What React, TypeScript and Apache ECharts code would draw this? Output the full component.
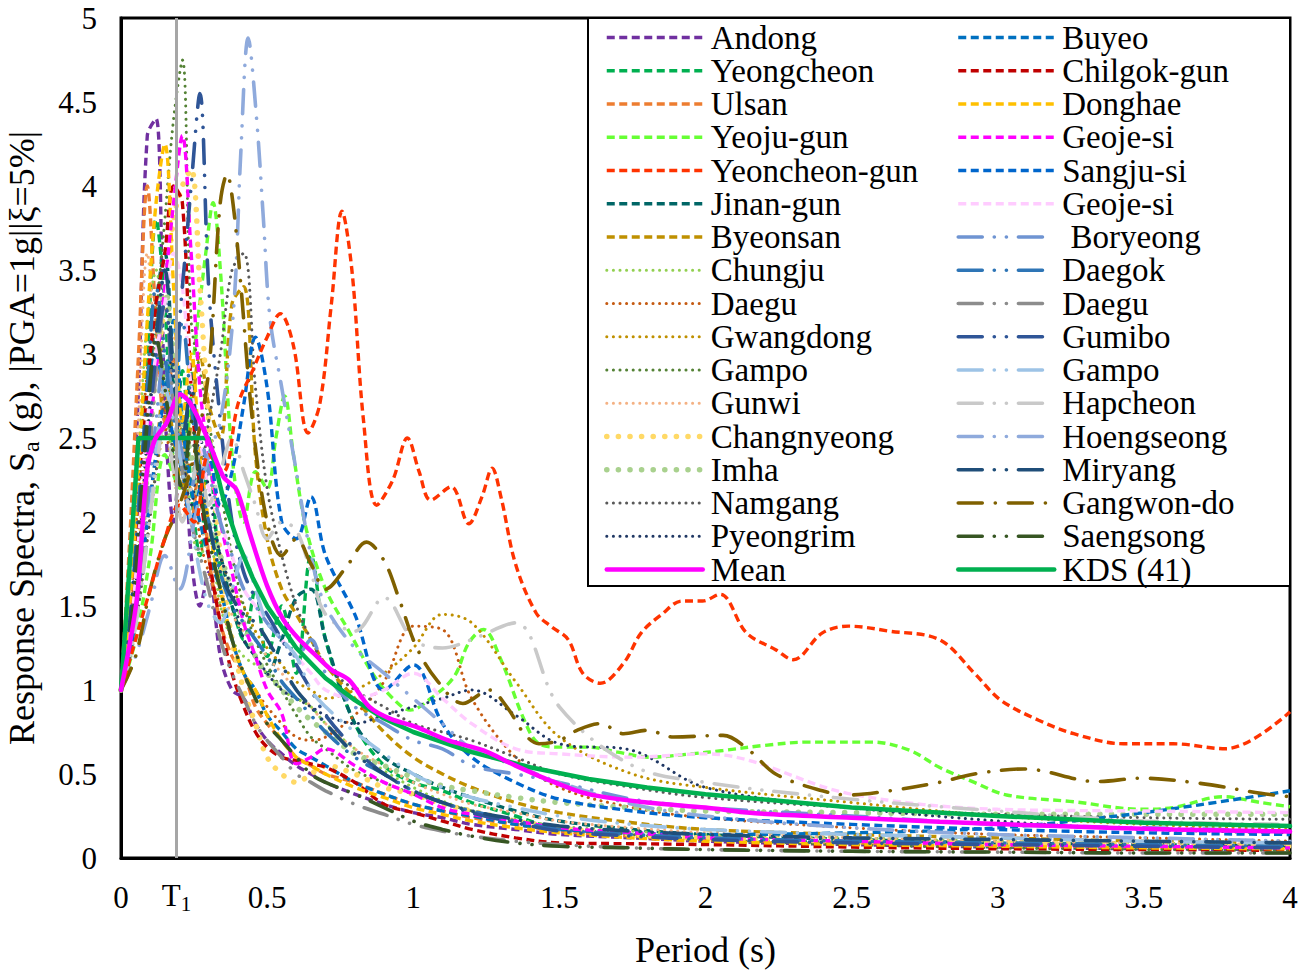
import { useEffect, useRef } from "react";
import * as echarts from "echarts";

// Shared period grid (s) for most records
const periods = [0, 0.03, 0.06, 0.09, 0.12, 0.15, 0.18, 0.21, 0.24, 0.27, 0.3, 0.34, 0.38, 0.42, 0.46, 0.5, 0.55, 0.6, 0.65, 0.7, 0.8, 0.9, 1.0, 1.1, 1.2, 1.35, 1.5, 1.75, 2.0, 2.5, 3.0, 3.5, 4.0];

const andong = [1, 1.7, 2.8, 4.3, 4.4, 2.7, 2.0, 2.6, 1.8, 1.5, 1.7, 1.2, 1.0, 0.95, 0.8, 0.7, 0.62, 0.55, 0.5, 0.45, 0.38, 0.32, 0.27, 0.24, 0.2, 0.17, 0.14, 0.12, 0.1, 0.08, 0.065, 0.055, 0.05];
const yeongcheon = [1, 1.4, 2.2, 3.0, 3.8, 3.3, 2.4, 2.9, 2.2, 1.8, 2.4, 1.7, 1.5, 1.3, 1.6, 1.2, 1.5, 1.1, 1.8, 1.3, 0.8, 0.55, 0.45, 0.4, 0.33, 0.25, 0.17, 0.13, 0.11, 0.09, 0.07, 0.06, 0.055];
const ulsan = [1, 1.9, 3.0, 4.0, 3.2, 2.6, 3.0, 2.3, 2.0, 2.4, 1.8, 1.4, 1.2, 1.1, 0.9, 0.8, 0.7, 0.6, 0.55, 0.5, 0.45, 0.38, 0.32, 0.28, 0.24, 0.2, 0.16, 0.13, 0.11, 0.09, 0.075, 0.065, 0.06];
const jinanGun = [1, 1.3, 1.9, 2.6, 3.3, 3.6, 2.8, 2.3, 2.9, 2.2, 2.0, 1.8, 1.5, 1.3, 1.2, 1.1, 1.3, 1.55, 1.6, 1.3, 0.8, 0.6, 0.5, 0.42, 0.36, 0.28, 0.22, 0.17, 0.14, 0.11, 0.09, 0.08, 0.07];
const byeonsan = [1, 1.2, 1.6, 2.0, 2.4, 2.8, 2.5, 2.2, 2.6, 3.0, 2.7, 2.5, 3.3, 3.4, 2.4, 1.9, 1.6, 1.45, 1.3, 1.15, 0.95, 0.75, 0.6, 0.5, 0.42, 0.33, 0.27, 0.21, 0.17, 0.14, 0.12, 0.1, 0.09];
const chungju = [1, 1.5, 2.4, 3.2, 3.5, 2.8, 2.4, 2.6, 2.0, 1.8, 1.9, 1.5, 1.3, 1.2, 1.15, 1.1, 1.0, 0.95, 0.9, 0.8, 0.65, 0.52, 0.42, 0.34, 0.28, 0.23, 0.19, 0.16, 0.14, 0.12, 0.1, 0.09, 0.08];
const daeguDot = [1, 1.4, 2.2, 2.9, 3.3, 2.6, 2.3, 2.0, 2.4, 1.9, 1.7, 1.5, 1.3, 1.1, 1.0, 0.9, 0.8, 0.72, 0.7, 0.72, 0.85, 1.05, 1.38, 1.36, 0.95, 0.6, 0.42, 0.3, 0.24, 0.18, 0.14, 0.12, 0.1];
const gwangdong = [1, 1.2, 1.5, 1.9, 2.3, 2.6, 3.0, 2.5, 2.2, 2.4, 2.0, 1.8, 1.6, 1.5, 1.35, 1.25, 1.15, 1.05, 1.0, 0.95, 1.0, 1.1, 1.25, 1.45, 1.4, 1.05, 0.72, 0.5, 0.42, 0.33, 0.25, 0.2, 0.17];
const gampoDot = [1, 1.3, 1.8, 2.5, 3.2, 3.8, 4.4, 4.75, 3.2, 2.9, 2.6, 2.2, 1.8, 1.5, 1.3, 1.15, 1.0, 0.85, 0.72, 0.65, 0.52, 0.45, 0.38, 0.33, 0.28, 0.22, 0.18, 0.14, 0.11, 0.08, 0.06, 0.05, 0.045];
const gunwi = [1, 1.5, 2.6, 3.6, 3.0, 2.7, 3.1, 2.5, 2.2, 2.0, 1.8, 1.6, 1.45, 1.35, 1.3, 1.2, 1.1, 1.0, 0.9, 0.8, 0.65, 0.55, 0.45, 0.38, 0.32, 0.27, 0.22, 0.18, 0.15, 0.12, 0.1, 0.09, 0.08];
const changnyeong = [1, 1.3, 1.8, 2.4, 2.9, 3.3, 3.8, 4.0, 4.1, 3.4, 2.6, 1.8, 1.3, 1.0, 0.8, 0.6, 0.5, 0.45, 0.5, 0.55, 0.5, 0.42, 0.38, 0.32, 0.28, 0.22, 0.18, 0.14, 0.12, 0.1, 0.09, 0.08, 0.07];
const imha = [1, 1.2, 1.6, 2.3, 2.9, 3.4, 3.0, 2.6, 2.4, 2.1, 2.0, 1.8, 1.6, 1.4, 1.2, 1.1, 1.0, 0.9, 0.82, 0.75, 0.62, 0.55, 0.48, 0.43, 0.4, 0.36, 0.33, 0.3, 0.28, 0.27, 0.26, 0.26, 0.26];
const namgang = [1, 1.2, 1.5, 1.9, 2.3, 2.7, 2.4, 2.2, 2.5, 2.3, 2.6, 3.0, 3.5, 3.6, 2.8, 2.2, 1.8, 1.5, 1.3, 1.15, 1.0, 0.9, 0.8, 0.75, 0.7, 0.6, 0.5, 0.42, 0.36, 0.3, 0.26, 0.24, 0.23];
const pyeongrim = [1, 1.3, 1.8, 2.5, 3.0, 3.3, 2.7, 2.4, 2.1, 2.5, 2.2, 1.8, 1.6, 1.3, 1.2, 1.1, 1.0, 0.95, 0.9, 0.85, 0.8, 0.85, 0.9, 0.95, 1.0, 0.85, 0.68, 0.64, 0.42, 0.3, 0.22, 0.17, 0.15];
const buyeo = [1, 1.3, 1.9, 2.6, 3.0, 2.8, 3.2, 2.6, 2.2, 2.0, 1.8, 1.6, 1.3, 1.1, 1.0, 0.85, 0.75, 0.65, 0.6, 0.55, 0.45, 0.38, 0.32, 0.28, 0.25, 0.2, 0.17, 0.15, 0.14, 0.15, 0.18, 0.27, 0.4];
const chilgokGun = [1, 1.4, 2.0, 2.8, 3.3, 3.6, 4.0, 3.9, 2.8, 2.2, 1.8, 1.4, 1.1, 0.9, 0.75, 0.66, 0.6, 0.58, 0.56, 0.54, 0.45, 0.32, 0.27, 0.22, 0.17, 0.12, 0.09, 0.085, 0.08, 0.065, 0.055, 0.05, 0.045];
const donghae = [1, 1.5, 2.3, 3.2, 3.9, 4.25, 3.4, 2.6, 3.0, 2.4, 2.0, 1.6, 1.3, 1.1, 1.0, 0.85, 0.7, 0.6, 0.55, 0.5, 0.42, 0.36, 0.3, 0.26, 0.22, 0.18, 0.15, 0.12, 0.1, 0.08, 0.07, 0.06, 0.055];
const geojeA = [1, 1.3, 1.8, 2.4, 2.9, 3.4, 3.9, 4.3, 3.6, 2.8, 2.4, 2.0, 1.7, 1.4, 1.2, 1.0, 0.86, 0.56, 0.6, 0.65, 0.55, 0.45, 0.38, 0.3, 0.26, 0.22, 0.18, 0.15, 0.12, 0.1, 0.08, 0.07, 0.06];
const sangjuSi = [1, 1.2, 1.6, 2.0, 2.4, 2.7, 2.5, 2.3, 2.0, 2.2, 2.4, 2.1, 2.3, 2.7, 3.1, 2.8, 2.0, 1.9, 2.15, 1.8, 1.45, 1.0, 1.15, 0.8, 0.6, 0.45, 0.35, 0.28, 0.24, 0.2, 0.17, 0.15, 0.14];
const geojeB = [1, 1.3, 1.9, 2.6, 3.0, 3.3, 3.6, 3.4, 2.8, 2.5, 2.2, 2.0, 1.8, 1.6, 1.5, 1.4, 1.3, 1.2, 1.1, 1.0, 0.95, 1.0, 1.1, 0.95, 0.8, 0.65, 0.62, 0.6, 0.62, 0.38, 0.29, 0.28, 0.27];
const boryeong = [1, 1.2, 1.6, 2.1, 2.6, 3.0, 2.7, 2.4, 2.2, 2.5, 2.3, 2.0, 1.8, 1.6, 1.5, 1.4, 1.3, 1.2, 1.3, 1.1, 0.9, 0.8, 0.7, 0.65, 0.55, 0.5, 0.45, 0.35, 0.3, 0.25, 0.2, 0.18, 0.16];
const daegok = [1, 1.4, 2.1, 2.8, 3.4, 3.0, 2.6, 3.2, 2.7, 2.3, 2.0, 1.7, 1.5, 1.4, 1.3, 1.2, 1.05, 0.95, 0.85, 0.75, 0.6, 0.5, 0.4, 0.33, 0.28, 0.22, 0.17, 0.14, 0.12, 0.1, 0.09, 0.08, 0.07];
const daeguDashDot = [1, 1.2, 1.6, 2.2, 2.9, 3.3, 2.7, 2.3, 2.0, 1.8, 1.6, 1.3, 1.1, 0.95, 0.8, 0.7, 0.6, 0.5, 0.45, 0.4, 0.32, 0.26, 0.2, 0.16, 0.13, 0.1, 0.08, 0.06, 0.05, 0.04, 0.035, 0.03, 0.03];
const gumibo = [1, 1.3, 1.8, 2.4, 3.0, 3.3, 2.9, 3.4, 4.0, 4.55, 3.4, 2.6, 2.0, 1.7, 1.55, 1.45, 1.3, 1.15, 1.0, 0.85, 0.65, 0.5, 0.4, 0.33, 0.27, 0.21, 0.16, 0.13, 0.11, 0.09, 0.08, 0.07, 0.06];
const gampoDashDot = [1, 1.2, 1.5, 1.9, 2.4, 2.8, 2.6, 2.3, 2.0, 1.7, 1.5, 1.4, 1.6, 1.8, 1.6, 1.4, 1.3, 1.2, 1.0, 0.9, 0.75, 0.62, 0.5, 0.42, 0.36, 0.3, 0.25, 0.2, 0.17, 0.14, 0.12, 0.1, 0.09];
const hapcheon = [1, 1.2, 1.5, 1.9, 2.3, 2.6, 2.3, 2.0, 2.2, 2.4, 2.1, 2.3, 2.5, 2.3, 2.1, 1.9, 2.0, 1.95, 1.7, 1.45, 1.35, 1.55, 1.3, 1.25, 1.3, 1.4, 0.9, 0.55, 0.45, 0.35, 0.28, 0.22, 0.2];
const miryang = [1, 1.4, 2.0, 2.7, 3.1, 3.5, 2.9, 2.5, 2.8, 2.3, 2.0, 1.7, 1.55, 1.45, 1.4, 1.3, 1.15, 1.0, 0.9, 0.8, 0.62, 0.5, 0.4, 0.33, 0.28, 0.23, 0.19, 0.16, 0.14, 0.12, 0.11, 0.1, 0.09];
const saengsong = [1, 1.3, 1.9, 2.6, 3.1, 2.8, 2.4, 2.2, 2.6, 2.2, 1.9, 1.6, 1.3, 1.1, 0.95, 0.8, 0.7, 0.6, 0.5, 0.45, 0.38, 0.3, 0.22, 0.17, 0.13, 0.09, 0.07, 0.06, 0.05, 0.04, 0.035, 0.03, 0.03];

// Records with their own [period, Sa] points
const yeojuGun = [[0, 1], [0.05, 1.3], [0.1, 1.8], [0.15, 2.4], [0.2, 2.2], [0.25, 3.0], [0.29, 3.6], [0.315, 3.9], [0.34, 3.5], [0.38, 2.4], [0.42, 2.0], [0.46, 2.3], [0.5, 2.2], [0.53, 2.5], [0.56, 2.75], [0.59, 2.4], [0.635, 1.95], [0.7, 1.6], [0.78, 1.35], [0.86, 1.1], [0.93, 0.95], [0.99, 0.88], [1.06, 0.95], [1.14, 1.08], [1.19, 1.28], [1.24, 1.36], [1.3, 1.18], [1.38, 0.82], [1.43, 0.68], [1.5, 0.66], [1.6, 0.66], [1.7, 0.63], [1.81, 0.6], [1.95, 0.62], [2.06, 0.64], [2.2, 0.67], [2.35, 0.69], [2.57, 0.69], [2.7, 0.64], [2.8, 0.54], [2.92, 0.45], [3.03, 0.375], [3.26, 0.335], [3.49, 0.29], [3.6, 0.3], [3.77, 0.365], [3.9, 0.33], [4.0, 0.305]];
const yeoncheonGun = [[0, 1], [0.05, 1.3], [0.1, 1.6], [0.15, 1.9], [0.2, 2.1], [0.25, 2.0], [0.3, 2.4], [0.35, 2.3], [0.4, 2.7], [0.45, 2.9], [0.5, 3.1], [0.545, 3.24], [0.59, 3.05], [0.64, 2.53], [0.68, 2.7], [0.72, 3.3], [0.756, 3.85], [0.79, 3.5], [0.83, 2.6], [0.875, 2.1], [0.93, 2.25], [0.98, 2.5], [1.02, 2.3], [1.06, 2.13], [1.13, 2.21], [1.19, 1.99], [1.235, 2.15], [1.27, 2.32], [1.3, 2.15], [1.35, 1.75], [1.42, 1.46], [1.47, 1.38], [1.53, 1.3], [1.58, 1.1], [1.64, 1.04], [1.72, 1.16], [1.78, 1.34], [1.85, 1.45], [1.92, 1.53], [1.99, 1.53], [2.05, 1.57], [2.14, 1.34], [2.24, 1.24], [2.3, 1.18], [2.4, 1.34], [2.49, 1.38], [2.63, 1.35], [2.8, 1.3], [2.92, 1.1], [3.01, 0.94], [3.14, 0.82], [3.26, 0.74], [3.43, 0.68], [3.6, 0.68], [3.78, 0.65], [4.0, 0.87]];
const hoengseong = [[0, 1], [0.05, 1.2], [0.1, 1.5], [0.15, 1.8], [0.2, 1.6], [0.25, 2.0], [0.3, 2.4], [0.34, 2.6], [0.385, 3.26], [0.41, 4.2], [0.435, 4.88], [0.464, 4.4], [0.487, 3.81], [0.51, 3.21], [0.55, 2.8], [0.6, 2.3], [0.65, 1.8], [0.7, 1.5], [0.8, 1.25], [0.9, 1.1], [1.0, 0.95], [1.1, 0.8], [1.2, 0.65], [1.35, 0.55], [1.5, 0.45], [1.75, 0.32], [2.0, 0.25], [2.5, 0.18], [3.0, 0.14], [3.5, 0.12], [4.0, 0.1]];
const gangwonDo = [[0, 1], [0.05, 1.2], [0.1, 1.6], [0.15, 1.9], [0.2, 2.1], [0.25, 2.4], [0.3, 2.9], [0.339, 3.89], [0.363, 4.07], [0.385, 3.87], [0.41, 3.41], [0.45, 2.6], [0.5, 2.0], [0.55, 1.8], [0.6, 1.9], [0.65, 1.75], [0.7, 1.6], [0.77, 1.73], [0.84, 1.88], [0.9, 1.77], [0.95, 1.55], [1.01, 1.26], [1.08, 1.06], [1.17, 0.92], [1.26, 1.0], [1.32, 0.9], [1.38, 0.74], [1.43, 0.68], [1.5, 0.7], [1.56, 0.76], [1.64, 0.8], [1.72, 0.74], [1.8, 0.76], [1.89, 0.72], [2.06, 0.73], [2.15, 0.64], [2.24, 0.5], [2.4, 0.4], [2.49, 0.375], [2.63, 0.4], [2.8, 0.45], [2.92, 0.5], [3.09, 0.53], [3.34, 0.455], [3.49, 0.475], [3.69, 0.445], [3.9, 0.385], [4.0, 0.365]];
const meanSpectrum = [[0, 1], [0.054, 1.54], [0.088, 2.29], [0.116, 2.49], [0.156, 2.59], [0.202, 2.76], [0.236, 2.71], [0.293, 2.51], [0.35, 2.27], [0.396, 2.19], [0.441, 1.93], [0.5, 1.62], [0.555, 1.42], [0.61, 1.3], [0.67, 1.2], [0.72, 1.12], [0.78, 1.06], [0.85, 0.9], [0.92, 0.83], [1.01, 0.78], [1.12, 0.7], [1.24, 0.64], [1.35, 0.55], [1.47, 0.46], [1.6, 0.38], [1.8, 0.33], [2.0, 0.3], [2.17, 0.266], [2.5, 0.24], [2.8, 0.216], [3.2, 0.19], [3.6, 0.17], [4.0, 0.157]];
const kdsDesign = [[0, 1], [0.06, 2.5], [0.3, 2.5], [0.35, 2.14], [0.4, 1.88], [0.45, 1.67], [0.5, 1.5], [0.6, 1.25], [0.7, 1.07], [0.8, 0.94], [0.9, 0.83], [1.0, 0.75], [1.2, 0.63], [1.4, 0.54], [1.6, 0.47], [1.8, 0.42], [2.0, 0.38], [2.5, 0.3], [3.0, 0.25], [3.5, 0.21], [4.0, 0.19]];

const T1 = 0.188;
const xTicks = ["0", "0.5", "1", "1.5", "2", "2.5", "3", "3.5", "4"];

const leftNames = ["Andong", "Yeongcheon", "Ulsan", "Yeoju-gun", "Yeoncheon-gun", "Jinan-gun", "Byeonsan", "Chungju", "Daegu", "Gwangdong", "Gampo", "Gunwi", "Changnyeong", "Imha", "Namgang", "Pyeongrim", "Mean"];
const rightNames = ["Buyeo", "Chilgok-gun", "Donghae", "Geoje-si", "Sangju-si", "Geoje-si ", "\u00A0Boryeong", "Daegok", "Daegu ", "Gumibo", "Gampo ", "Hapcheon", "Hoengseong", "Miryang", "Gangwon-do", "Saengsong", "KDS (41)"];

const FONT = "'Liberation Serif', 'Times New Roman', serif";

type Kind = "dash" | "dot" | "bigdot" | "dd" | "dashdot" | "solid";

function styleOf(kind: Kind, color: string) {
  switch (kind) {
    case "dash":
      return { color, width: 3.4, type: [8, 4.5], cap: "butt" };
    case "dot":
      return { color, width: 3, type: [0.1, 6.5], cap: "round" };
    case "bigdot":
      return { color, width: 5.5, type: [0.1, 11.5], cap: "round" };
    case "dd":
      return { color, width: 3.6, type: [24, 12, 0.1, 12, 0.1, 12], cap: "round" };
    case "dashdot":
      return { color, width: 3.6, type: [24, 13, 0.1, 13], cap: "round" };
    default:
      return { color, width: 4.5, type: "solid", cap: "round" };
  }
}

const onGrid = (vals: number[]) => periods.map((t, i) => [t, vals[i]]);

const records: { name: string; data: number[][]; color: string; kind: Kind }[] = [
  { name: "Andong", data: onGrid(andong), color: "#7030A0", kind: "dash" },
  { name: "Yeongcheon", data: onGrid(yeongcheon), color: "#00B050", kind: "dash" },
  { name: "Ulsan", data: onGrid(ulsan), color: "#ED7D31", kind: "dash" },
  { name: "Yeoju-gun", data: yeojuGun, color: "#66FF33", kind: "dash" },
  { name: "Jinan-gun", data: onGrid(jinanGun), color: "#006666", kind: "dash" },
  { name: "Byeonsan", data: onGrid(byeonsan), color: "#BF9000", kind: "dash" },
  { name: "Chungju", data: onGrid(chungju), color: "#92D050", kind: "dot" },
  { name: "Daegu", data: onGrid(daeguDot), color: "#C55A11", kind: "dot" },
  { name: "Gwangdong", data: onGrid(gwangdong), color: "#BF9000", kind: "dot" },
  { name: "Gampo", data: onGrid(gampoDot), color: "#548235", kind: "dot" },
  { name: "Gunwi", data: onGrid(gunwi), color: "#F4B183", kind: "dot" },
  { name: "Changnyeong", data: onGrid(changnyeong), color: "#FFD966", kind: "bigdot" },
  { name: "Imha", data: onGrid(imha), color: "#A9D18E", kind: "bigdot" },
  { name: "Namgang", data: onGrid(namgang), color: "#595959", kind: "dot" },
  { name: "Pyeongrim", data: onGrid(pyeongrim), color: "#203864", kind: "dot" },
  { name: "Buyeo", data: onGrid(buyeo), color: "#0070C0", kind: "dash" },
  { name: "Chilgok-gun", data: onGrid(chilgokGun), color: "#C00000", kind: "dash" },
  { name: "Donghae", data: onGrid(donghae), color: "#FFC000", kind: "dash" },
  { name: "Geoje-si", data: onGrid(geojeA), color: "#FF00FF", kind: "dash" },
  { name: "Sangju-si", data: onGrid(sangjuSi), color: "#0066CC", kind: "dash" },
  { name: "Geoje-si ", data: onGrid(geojeB), color: "#FFCCFF", kind: "dash" },
  { name: "\u00A0Boryeong", data: onGrid(boryeong), color: "#6F94D2", kind: "dd" },
  { name: "Daegok", data: onGrid(daegok), color: "#2E75B6", kind: "dd" },
  { name: "Daegu ", data: onGrid(daeguDashDot), color: "#8C8C8C", kind: "dd" },
  { name: "Gumibo", data: onGrid(gumibo), color: "#2F5597", kind: "dd" },
  { name: "Gampo ", data: onGrid(gampoDashDot), color: "#9DC3E6", kind: "dd" },
  { name: "Hapcheon", data: onGrid(hapcheon), color: "#C9C9C9", kind: "dd" },
  { name: "Hoengseong", data: hoengseong, color: "#8FAADC", kind: "dd" },
  { name: "Miryang", data: onGrid(miryang), color: "#1F4E79", kind: "dd" },
  { name: "Gangwon-do", data: gangwonDo, color: "#7F6000", kind: "dashdot" },
  { name: "Saengsong", data: onGrid(saengsong), color: "#375623", kind: "dd" },
  { name: "Yeoncheon-gun", data: yeoncheonGun, color: "#FF3300", kind: "dash" },
];

export default function App() {
  const ref = useRef<HTMLDivElement>(null);
  useEffect(() => {
    document.body.style.margin = "0";
    if (!ref.current) return;
    const chart = echarts.init(ref.current, null, { renderer: "svg" });

    const series: any[] = records.map((r) => ({
      type: "line",
      name: r.name,
      data: r.data,
      showSymbol: false,
      symbol: "none",
      smooth: 0.35,
      lineStyle: styleOf(r.kind, r.color),
      itemStyle: { color: r.color },
      z: 2,
    }));
    series.push({
      type: "line",
      name: "KDS (41)",
      data: kdsDesign,
      symbol: "none",
      smooth: false,
      lineStyle: styleOf("solid", "#00B050"),
      itemStyle: { color: "#00B050" },
      z: 3,
      markLine: {
        silent: true,
        symbol: ["none", "none"],
        lineStyle: { color: "#A6A6A6", width: 3, type: "solid" },
        label: {
          show: true,
          position: "start",
          distance: 18,
          formatter: "{t|T}{s|1}",
          rich: {
            t: { fontFamily: FONT, fontSize: 31, color: "#000", lineHeight: 38 },
            s: { fontFamily: FONT, fontSize: 21, color: "#000", lineHeight: 21, verticalAlign: "bottom" },
          },
        },
        data: [{ xAxis: T1 }],
      },
    });
    series.push({
      type: "line",
      name: "Mean",
      data: meanSpectrum,
      symbol: "none",
      smooth: 0.3,
      lineStyle: styleOf("solid", "#FF00FF"),
      itemStyle: { color: "#FF00FF" },
      z: 3,
    });

    const legendCommon = {
      orient: "vertical",
      top: 21,
      padding: 0,
      itemGap: 0.25,
      itemWidth: 96,
      itemHeight: 14,
      selectedMode: false,
      z: 10,
      itemStyle: { opacity: 0, borderWidth: 0 },
      lineStyle: { width: "inherit", opacity: 1 },
      textStyle: {
        fontFamily: FONT,
        fontSize: 33,
        color: "#000",
        lineHeight: 33,
        padding: [0, 0, 0, 3],
      },
    };

    chart.setOption({
      animation: false,
      backgroundColor: "#fff",
      textStyle: { fontFamily: FONT },
      grid: {
        left: 121,
        right: 8,
        top: 18,
        bottom: 116,
        show: true,
        borderColor: "#000",
        borderWidth: 3,
        containLabel: false,
        outerBoundsMode: "none",
      },
      xAxis: {
        type: "value",
        min: 0,
        max: 4,
        interval: 0.5,
        name: "Period (s)",
        nameLocation: "middle",
        nameGap: 74,
        nameTextStyle: { fontFamily: FONT, fontSize: 36, color: "#000" },
        axisLine: { show: true, lineStyle: { color: "#000", width: 3 } },
        axisTick: { show: false },
        splitLine: { show: false },
        axisLabel: {
          fontFamily: FONT,
          fontSize: 31,
          color: "#000",
          margin: 24,
          formatter: (v: number) => xTicks[Math.round(v * 2)] ?? String(v),
        },
      },
      yAxis: {
        type: "value",
        min: 0,
        max: 5,
        interval: 0.5,
        name: "{n|Response Spectra, S}{s|a}{n| (g), |PGA=1g||ξ=5%|}",
        nameLocation: "middle",
        nameGap: 78,
        nameTextStyle: {
          rich: {
            n: { fontFamily: FONT, fontSize: 36, color: "#000", lineHeight: 42 },
            s: { fontFamily: FONT, fontSize: 24, color: "#000", lineHeight: 24, verticalAlign: "bottom" },
          },
        },
        axisLine: { show: true, lineStyle: { color: "#000", width: 3 } },
        axisTick: { show: false },
        splitLine: { show: false },
        axisLabel: { fontFamily: FONT, fontSize: 31, color: "#000", margin: 24 },
      },
      legend: [
        { ...legendCommon, left: 604, data: leftNames },
        { ...legendCommon, left: 956, data: rightNames },
      ],
      graphic: [
        {
          type: "rect",
          z: 5,
          shape: { x: 588, y: 18, width: 702, height: 568 },
          style: { fill: "#fff", stroke: "#000", lineWidth: 2 },
        },
      ],
      series,
    });
    return () => chart.dispose();
  }, []);
  return <div ref={ref} style={{ width: 1298, height: 974 }} />;
}
